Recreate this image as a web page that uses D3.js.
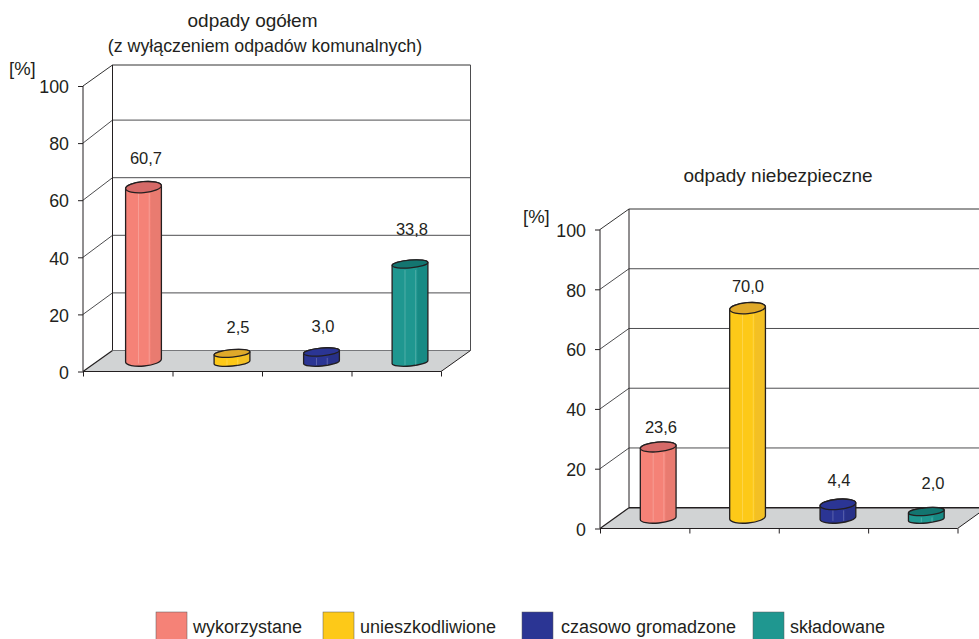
<!DOCTYPE html>
<html lang="pl">
<head>
<meta charset="utf-8">
<title>odpady</title>
<script src="https://cdn.jsdelivr.net/npm/d3@7"></script>
<style>
  html, body { margin: 0; padding: 0; background: #fff; overflow: hidden; }
  svg { display: block; }
  text { font-family: "Liberation Sans", Arial, sans-serif; fill: #231f20; }
</style>
</head>
<body>
<svg id="chart"></svg>
<script>
//--------------------------------------------
// DATA
//--------------------------------------------
const categories = ["wykorzystane", "unieszkodliwione", "czasowo gromadzone", "składowane"];
const totalValues = [60.7, 2.5, 3.0, 33.8];
const hazardousValues = [23.6, 70.0, 4.4, 2.0];
const yTicks = [0, 20, 40, 60, 80, 100];
const labelFormat = d3.format(".1f");

//--------------------------------------------
// CONFIG
//--------------------------------------------
const width = 979, height = 639;
const bodyColors = ["#f58277", "#fdc918", "#2b3594", "#1f9790"];
const shadeColors = ["#e97b70", "#f3c024", "#283189", "#178a84"];
const topColors = ["#d56a68", "#dfa92a", "#2b3594", "#137570"];

const svg = d3.select("#chart")
  .attr("width", width)
  .attr("height", height)
  .attr("viewBox", [0, 0, width, height]);

// gradients for the cylinder sides
const defs = svg.append("defs");
categories.forEach((c, i) => {
  const g = defs.append("linearGradient").attr("id", "side" + i);
  [[0, bodyColors[i]], [0.68, bodyColors[i]], [0.72, shadeColors[i]], [1, shadeColors[i]]]
    .forEach(s => g.append("stop").attr("offset", s[0]).attr("stop-color", s[1]));
});

//--------------------------------------------
// PANELS
//--------------------------------------------
function drawPanel(cfg) {
  const g = svg.append("g");
  const y = d3.scaleLinear([0, 100], [cfg.y0, cfg.y100]);
  const backY = d3.scaleLinear([0, 100], [cfg.back0, cfg.back100]);
  const x = d3.scaleBand(categories, [cfg.x0, cfg.x1]);
  const edge = d3.scaleLinear([0, categories.length], [cfg.x0, cfg.x1]);
  const dx = cfg.dx;
  const line = d3.line();
  const backAt = t => t === 100 ? cfg.backTop : backY(t);

  // walls: grid lines run up the side wall and across the back
  g.append("g").selectAll("path")
    .data(yTicks.slice(1))
    .join("path")
      .attr("d", t => line([[cfg.x0, y(t)], [cfg.x0 + dx, backAt(t)], [cfg.x1 + dx, backAt(t)]]))
      .attr("fill", "none")
      .attr("stroke", t => t === 100 ? "#333" : "#4d4d4f")
      .attr("stroke-width", 1);

  g.append("path")
    .attr("d", line([[cfg.x0 + dx, backY(0)], [cfg.x0 + dx, backAt(100)]]))
    .attr("stroke", "#231f20").attr("fill", "none");
  g.append("path")
    .attr("d", line([[cfg.x1 + dx, backY(0)], [cfg.x1 + dx, backAt(100)]]))
    .attr("stroke", "#4d4d4f").attr("fill", "none");

  // floor
  g.append("path")
    .attr("d", line([[cfg.x0, y(0)], [cfg.x0 + dx, backY(0)], [cfg.x1 + dx, backY(0)], [cfg.x1, y(0)]]) + "Z")
    .attr("fill", "#d1d3d4");
  g.append("path")
    .attr("d", line([[cfg.x0 + dx, backY(0)], [cfg.x1 + dx, backY(0)]]))
    .attr("stroke", cfg.floorEdge).attr("stroke-width", cfg.floorEdgeWidth).attr("fill", "none");
  g.append("path")
    .attr("d", line([[cfg.x0, y(0)], [cfg.x0 + dx, backY(0)]]))
    .attr("stroke", "#231f20").attr("stroke-width", 1.2).attr("fill", "none");
  g.append("path")
    .attr("d", line([[cfg.x1, y(0)], [cfg.x1 + dx, backY(0)]]))
    .attr("stroke", "#231f20").attr("fill", "none");

  // axes
  const yAxis = g.append("g")
    .attr("transform", `translate(${cfg.x0},0)`)
    .call(d3.axisLeft(y).tickValues(yTicks).tickSize(5).tickPadding(9).tickFormat(d3.format("d")));
  yAxis.select(".domain").attr("stroke", "#231f20").attr("d", `M0,${cfg.y0}V${cfg.y100}`);
  yAxis.selectAll("line").attr("stroke", "#231f20");
  yAxis.selectAll("text")
    .attr("font-size", 17.8)
    .attr("font-family", "Liberation Sans")
    .attr("fill", "#231f20")
    .attr("dy", "0.38em");

  const xAxis = g.append("g")
    .attr("transform", `translate(0,${cfg.y0})`)
    .call(d3.axisBottom(edge).tickValues(d3.range(categories.length + 1)).tickSize(5).tickFormat(""));
  xAxis.select(".domain").attr("stroke", "#231f20").attr("stroke-width", 1.2).attr("d", `M${cfg.x0},0H${cfg.x1}`);
  xAxis.selectAll("line").attr("stroke", "#231f20");

  // cylinders
  const r = x.bandwidth() * 0.2, tilt = -5, maxRy = 5.5;
  const tiltRise = 1.6; // half the height difference between the left and right rim
  cfg.values.forEach((v, i) => {
    const cx = x(categories[i]) + x.bandwidth() / 2 + dx / 2 + cfg.nudgeX[i];
    const floorY = y(0) - cfg.baseUp;
    const top = floorY - (y(0) - y(v));
    const ry = cfg.ry[i];
    const base = floorY + (maxRy - ry); // flatter ellipses still sit on the same floor line
    const c = g.append("g");

    c.append("path")
      .attr("d", `M${cx - r},${top + tiltRise}L${cx - r},${base + tiltRise}`
        + `A${r},${ry} ${tilt} 0 0 ${cx + r},${base - tiltRise}`
        + `L${cx + r},${top - tiltRise}`
        + `A${r},${ry} ${tilt} 0 0 ${cx - r},${top + tiltRise}Z`)
      .attr("fill", `url(#side${i})`)
      .attr("stroke", "#231f20")
      .attr("stroke-width", 1.3);

    // thin highlights on the side
    [-0.28, 0.32].forEach(k => {
      c.append("path")
        .attr("d", line([[cx + k * r, top + 6], [cx + k * r, base + 3]]))
        .attr("stroke", "#fff").attr("stroke-opacity", 0.22).attr("stroke-width", 1).attr("fill", "none");
    });

    c.append("ellipse")
      .attr("cx", cx).attr("cy", top)
      .attr("rx", r).attr("ry", ry)
      .attr("transform", `rotate(${tilt} ${cx} ${top})`)
      .attr("fill", topColors[i])
      .attr("stroke", "#231f20")
      .attr("stroke-width", 1.3);

    g.append("text")
      .attr("x", cfg.labelX[i])
      .attr("y", top - cfg.labelUp[i])
      .attr("text-anchor", "middle")
      .attr("dominant-baseline", "central")
      .attr("font-size", 16.5)
      .text(labelFormat(v).replace(".", ","));
  });

  // titles
  cfg.titles.forEach(t => {
    g.append("text")
      .attr("x", t.x).attr("y", t.y)
      .attr("text-anchor", "middle")
      .attr("font-size", t.size)
      .text(t.text);
  });
  g.append("text")
    .attr("x", cfg.unitX).attr("y", cfg.unitY)
    .attr("font-size", 18.5)
    .text("[%]");
}

drawPanel({
  values: totalValues,
  x0: 83, x1: 441, y0: 371.5, y100: 86, dx: 29.5,
  back0: 350.5, back100: 62.5, backTop: 65,
  baseUp: 11,
  ry: [5.5, 3.7, 3.9, 3.9],
  floorEdge: "#77787b", floorEdgeWidth: 1,
  nudgeX: [1, 0, 0, -1],
  labelX: [146, 238, 323, 412],
  labelUp: [29, 26, 26, 35.5],
  titles: [
    { text: "odpady ogółem", x: 252.5, y: 27, size: 19 },
    { text: "(z wyłączeniem odpadów komunalnych)", x: 265, y: 52, size: 17.8 }
  ],
  unitX: 9, unitY: 75
});

drawPanel({
  values: hazardousValues,
  x0: 600, x1: 957.5, y0: 528.5, y100: 229.5, dx: 29,
  back0: 507.7, back100: 209, backTop: 209,
  baseUp: 11,
  ry: [4.8, 5.5, 5.1, 3.8],
  floorEdge: "#231f20", floorEdgeWidth: 1.4,
  nudgeX: [-1, -1, 0, -1],
  labelX: [661, 748, 839, 933],
  labelUp: [20, 22, 24.5, 28.5],
  titles: [{ text: "odpady niebezpieczne", x: 778, y: 182, size: 19 }],
  unitX: 523, unitY: 223
});

//--------------------------------------------
// LEGEND
//--------------------------------------------
const legendSwatchX = [156, 323, 522, 753];
const legendTextX = [193, 360, 561, 790];
const legend = svg.append("g").selectAll("g")
  .data(categories)
  .join("g");
legend.append("rect")
  .attr("x", (d, i) => legendSwatchX[i])
  .attr("y", 612)
  .attr("width", 31)
  .attr("height", 28)
  .attr("fill", (d, i) => bodyColors[i])
  .attr("stroke", "#58595b")
  .attr("stroke-width", 0.5);
legend.append("text")
  .attr("x", (d, i) => legendTextX[i])
  .attr("y", 633)
  .attr("font-size", 18)
  .text(d => d);
</script>
</body>
</html>
